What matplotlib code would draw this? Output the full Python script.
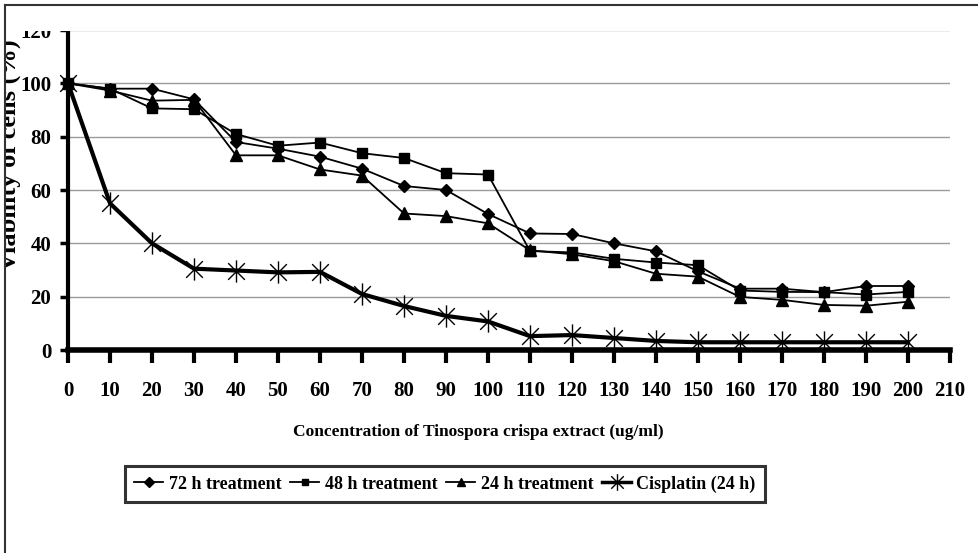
import matplotlib
matplotlib.use("Agg")
import matplotlib.pyplot as plt
from matplotlib.patches import Rectangle
from matplotlib.lines import Line2D
from matplotlib.path import Path

conc = [0, 10, 20, 30, 40, 50, 60, 70, 80, 90, 100, 110, 120, 130, 140, 150, 160, 170, 180, 190, 200]
h72 = [100, 98, 98, 94, 78, 75.5, 72.5, 68, 61.5, 60, 51, 43.7, 43.5, 40, 37, 29.5, 23, 23, 21.7, 24, 24]
h48 = [100, 98, 90.6, 90.3, 81, 76.6, 77.8, 73.8, 72, 66.3, 65.8, 37.1, 36.6, 34.2, 32.8, 31.8, 22.3, 21.8, 21.7, 20.8, 21.8]
h24 = [100, 97.3, 93.5, 93.8, 73, 73, 67.7, 65.4, 51.2, 50.2, 47.5, 37.4, 35.9, 33.3, 28.6, 27.5, 19.9, 18.8, 16.9, 16.6, 18.1]
cis = [100, 55, 40, 30.5, 29.8, 29.1, 29.3, 21, 16.5, 12.8, 10.7, 5.2, 5.6, 4.5, 3.4, 2.9, 2.9, 2.9, 2.9, 2.9, 2.9]

series_labels = ["72 h treatment", "48 h treatment", "24 h treatment", "Cisplatin (24 h)"]
xticks = list(range(0, 211, 10))
yticks = [0, 20, 40, 60, 80, 100, 120]
xlabel = "Concentration of Tinospora crispa extract (ug/ml)"
ylabel = "Viability of cells (%)"

W, H = 979, 553
fig = plt.figure(figsize=(W / 100, H / 100), dpi=100)
plt.rcParams['font.family'] = ['Liberation Serif', 'DejaVu Serif']
plt.rcParams['font.weight'] = 'bold'

def fx(px):
    return px / W

def fy(py):
    return 1 - py / H

# asterisk marker: X plus vertical bar
star = Path([(0, -1), (0, 1), (-0.75, -0.75), (0.75, 0.75), (-0.75, 0.75), (0.75, -0.75)],
            [Path.MOVETO, Path.LINETO, Path.MOVETO, Path.LINETO, Path.MOVETO, Path.LINETO])

ax = fig.add_axes([fx(68), fy(350), fx(950) - fx(68), fy(30) - fy(350)])
ax.set_xlim(0, 210)
ax.set_ylim(0, 120)

ax.yaxis.grid(True, color='#9a9a9a', linewidth=1.0)
ax.set_axisbelow(True)

ax.plot(conc, h72, color='black', lw=1.3, marker='D', ms=6, clip_on=False, zorder=3)
ax.plot(conc, h48, color='black', lw=1.3, marker='s', ms=7, clip_on=False, zorder=3)
ax.plot(conc, h24, color='black', lw=1.3, marker='^', ms=8, clip_on=False, zorder=3)
ax.plot(conc, cis, color='black', lw=3, marker=star, ms=16, mew=1.0, clip_on=False, zorder=4)

for s in ['top', 'right']:
    ax.spines[s].set_visible(False)
ax.spines['left'].set_linewidth(3)
ax.spines['bottom'].set_linewidth(4)

ax.set_xticks(xticks)
ax.set_xticklabels([str(v) for v in xticks], fontsize=15, fontweight='bold')
ax.set_yticks(yticks)
ax.set_yticklabels([str(v) for v in yticks], fontsize=15, fontweight='bold')
ax.tick_params(axis='x', direction='out', length=9, width=3, pad=13)
ax.tick_params(axis='y', direction='out', length=6, width=2.5, pad=6)

fig.text(fx(478), fy(432), xlabel, ha='center', va='center',
         fontsize=12.5, fontweight='bold')
fig.text(fx(9), fy(155), ylabel, ha='center', va='center', rotation=90,
         fontsize=19, fontweight='bold')

handles = [
    Line2D([], [], color='black', lw=1.3, marker='D', ms=5),
    Line2D([], [], color='black', lw=1.3, marker='s', ms=5),
    Line2D([], [], color='black', lw=1.3, marker='^', ms=6),
    Line2D([], [], color='black', lw=2.5, marker=star, ms=12, mew=1.0),
]
leg = fig.legend(handles, series_labels, loc='center', bbox_to_anchor=(fx(445), fy(484)),
                 ncol=4, frameon=True, fancybox=False, edgecolor='black',
                 prop={'size': 13, 'weight': 'bold'}, handlelength=1.6, handletextpad=0.3,
                 columnspacing=0.5, borderpad=0.5)
leg.get_frame().set_linewidth(2.2)

# mask above the plot (image was cropped), and frame lines
fig.patches.append(Rectangle((fx(6), fy(31)), 1, fy(6) - fy(31), transform=fig.transFigure,
                             facecolor='white', edgecolor='none', zorder=10))
fig.patches.append(Rectangle((0, 0), fx(5), 1, transform=fig.transFigure,
                             facecolor='white', edgecolor='none', zorder=10))
fig.lines.append(Line2D([fx(5), 1], [fy(5), fy(5)], transform=fig.transFigure, color='#333333', lw=1.5, zorder=11))
fig.lines.append(Line2D([fx(5), fx(5)], [0, fy(5)], transform=fig.transFigure, color='#333333', lw=1.5, zorder=11))

fig.savefig("out.png", dpi=100)
